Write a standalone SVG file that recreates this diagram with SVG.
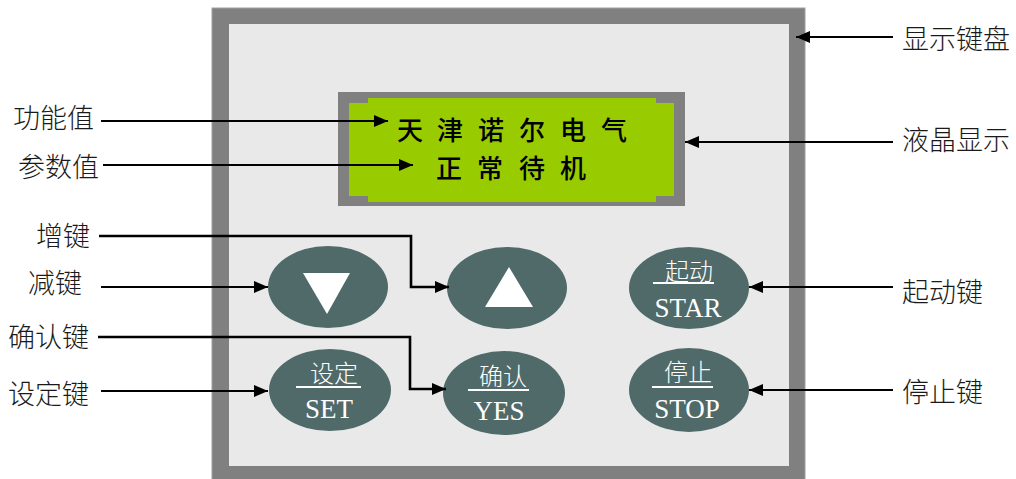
<svg xmlns="http://www.w3.org/2000/svg" width="1016" height="479" viewBox="0 0 1016 479">
<style>
.lbl{font-family:"Noto Sans CJK SC","Liberation Serif",sans-serif;font-size:27px;fill:#1a1a1a;font-weight:300}
.lcd{font-family:"Noto Sans CJK SC",sans-serif;font-size:26px;fill:#000;font-weight:500}
.kc{font-family:"Noto Sans CJK SC",serif;font-size:24px;fill:#fff;text-anchor:middle;font-weight:300}
.ke{font-family:"Liberation Serif","Noto Sans CJK SC",serif;font-size:27px;fill:#fff;text-anchor:middle}
.key{fill:#506a6a}
.ul{stroke:#fff;stroke-width:2}
.c{fill:none;stroke:#000;stroke-width:2;marker-end:url(#ah)}
.c2{fill:none;stroke:#000;stroke-width:2.6;marker-end:url(#ah)}
</style>
<defs>
<marker id="ah" markerWidth="14" markerHeight="12" refX="14" refY="6" orient="auto" markerUnits="userSpaceOnUse">
<path d="M0,0 L14,6 L0,12 z" fill="#000"/>
</marker>
</defs>
<rect width="1016" height="479" fill="#fff"/>
<g id="panel">
<rect x="212" y="8" width="593" height="480" fill="#808080" stroke="#a0a0a0" stroke-width="1"/>
<rect x="229" y="24" width="560" height="442" fill="#e9e9e9"/>
</g>
<g id="lcd">
<rect x="338" y="92" width="347" height="114" fill="#808080"/>
<rect x="349" y="103" width="325" height="93" fill="#99cc00"/>
<rect x="368" y="98" width="288" height="104" fill="#99cc00"/>
<text class="lcd" y="140"><tspan x="397">天</tspan><tspan x="437">津</tspan><tspan x="478">诺</tspan><tspan x="519">尔</tspan><tspan x="560">电</tspan><tspan x="601">气</tspan></text>
<text class="lcd" y="178"><tspan x="436">正</tspan><tspan x="477">常</tspan><tspan x="519">待</tspan><tspan x="560">机</tspan></text>
</g>
<g id="key-down">
<ellipse class="key" cx="328" cy="287" rx="60" ry="41"/>
<polygon points="303,273 350,273 327,314" fill="#fff"/>
</g>
<g id="key-up">
<ellipse class="key" cx="507" cy="288" rx="60" ry="41"/>
<polygon points="485,307 533,307 509,267" fill="#fff"/>
</g>
<g id="key-start">
<ellipse class="key" cx="689" cy="288" rx="60" ry="41"/>
<text class="kc" x="689" y="280">起动</text>
<line class="ul" x1="653" y1="283" x2="714" y2="283"/>
<text class="ke" x="688" y="317">STAR</text>
</g>
<g id="key-set">
<ellipse class="key" cx="330" cy="390" rx="61" ry="41"/>
<text class="kc" x="334" y="382">设定</text>
<line class="ul" x1="296" y1="387" x2="361" y2="387"/>
<text class="ke" x="329" y="418">SET</text>
</g>
<g id="key-yes">
<ellipse class="key" cx="504" cy="393" rx="61" ry="42"/>
<text class="kc" x="503" y="385">确认</text>
<line class="ul" x1="468" y1="390" x2="529" y2="390"/>
<text class="ke" x="499" y="420">YES</text>
</g>
<g id="key-stop">
<ellipse class="key" cx="689" cy="390" rx="60" ry="42"/>
<text class="kc" x="688" y="381">停止</text>
<line class="ul" x1="652" y1="387" x2="713" y2="387"/>
<text class="ke" x="687" y="418">STOP</text>
</g>
<g id="labels">
<text class="lbl" x="13" y="128">功能值</text>
<text class="lbl" x="18" y="177">参数值</text>
<text class="lbl" x="36" y="246">增键</text>
<text class="lbl" x="28" y="293">减键</text>
<text class="lbl" x="8" y="347">确认键</text>
<text class="lbl" x="8" y="404">设定键</text>
<text class="lbl" x="902" y="49">显示键盘</text>
<text class="lbl" x="902" y="150">液晶显示</text>
<text class="lbl" x="902" y="302">起动键</text>
<text class="lbl" x="902" y="402">停止键</text>
</g>
<g id="connectors">
<path class="c" d="M101,121 H388"/>
<path class="c" d="M103,165 H413"/>
<path class="c2" d="M99,236 H411 V287 H449"/>
<path class="c" d="M101,287 H268"/>
<path class="c2" d="M98,337 H410 V389 H446"/>
<path class="c" d="M101,391 H268"/>
<path class="c" d="M893,37 H796"/>
<path class="c" d="M893,142 H685"/>
<path class="c" d="M893,287 H749"/>
<path class="c" d="M893,390 H749"/>
</g>
</svg>
